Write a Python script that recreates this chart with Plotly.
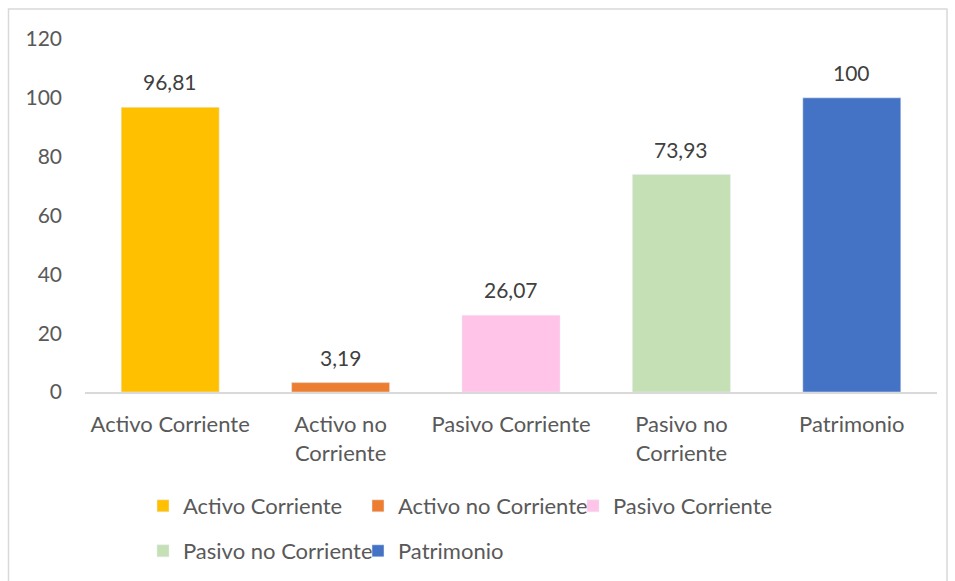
import plotly.graph_objects as go

categories = ["Activo Corriente", "Activo no Corriente", "Pasivo Corriente", "Pasivo no Corriente", "Patrimonio"]
tick_labels = ["Activo Corriente", "Activo no<br>Corriente", "Pasivo Corriente", "Pasivo no<br>Corriente", "Patrimonio"]
values = [96.81, 3.19, 26.07, 73.93, 100]
colors = ["#FFC000", "#ED7D31", "#FFC4E8", "#C5E0B4", "#4472C4"]
y_ticks = [0, 20, 40, 60, 80, 100, 120]

FONT = "Lato"
FS = 21
FS_X = 22
fig = go.Figure()
for i, (c, v, col) in enumerate(zip(categories, values, colors)):
    fig.add_trace(go.Bar(
        x=[c], y=[v], name=c, marker_color=col, width=0.575,
        legend="legend" if i < 3 else "legend2",
        showlegend=True,
    ))
    fig.add_annotation(x=c, y=v, text=f"{v:g}".replace(".", ","), showarrow=False,
                       yanchor="bottom", yshift=11,
                       font=dict(family=FONT, size=FS, color="#404040"))

fig.update_layout(
    width=955, height=581,
    barmode="overlay",
    paper_bgcolor="white", plot_bgcolor="white",
    margin=dict(l=85, r=18, t=39, b=189, autoexpand=False),
    font=dict(family=FONT, size=FS, color="#595959"),
    xaxis=dict(categoryorder="array", categoryarray=categories,
               tickvals=categories, ticktext=tick_labels,
               showline=True, linecolor="#D9D9D9", linewidth=2,
               ticks="", showgrid=False, ticklabelstandoff=12,
               automargin=False,
               tickfont=dict(size=FS_X, color="#595959")),
    yaxis=dict(range=[0, 120], tickvals=y_ticks, showgrid=False,
               zeroline=False, showline=False, ticks="",
               ticklabelstandoff=22, automargin=False,
               tickfont=dict(size=FS, color="#595959")),
    legend=dict(orientation="h", x=(143 - 85) / 852, xanchor="left",
                y=-(485 - 392) / 353, yanchor="top",
                font=dict(size=FS_X, color="#595959"), itemwidth=30,
                entrywidth=170, entrywidthmode="pixels",
                bgcolor="rgba(0,0,0,0)"),
    legend2=dict(orientation="h", x=(143 - 85) / 852, xanchor="left",
                 y=-(530 - 392) / 353, yanchor="top",
                 font=dict(size=FS_X, color="#595959"), itemwidth=30,
                 entrywidth=170, entrywidthmode="pixels",
                 bgcolor="rgba(0,0,0,0)"),
    showlegend=True,
)

fig.add_shape(type="rect", xref="paper", yref="paper",
              x0=(8.5 - 85) / 852, x1=(947 - 85) / 852,
              y0=-(585 - 392) / 353, y1=1 + (30 / 353),
              line=dict(color="#D9D9D9", width=1.5), fillcolor="rgba(0,0,0,0)", layer="below")

fig.write_html("out.html", config={"displayModeBar": False},
               post_script="document.body.style.margin='0px';document.body.style.overflow='hidden';")
